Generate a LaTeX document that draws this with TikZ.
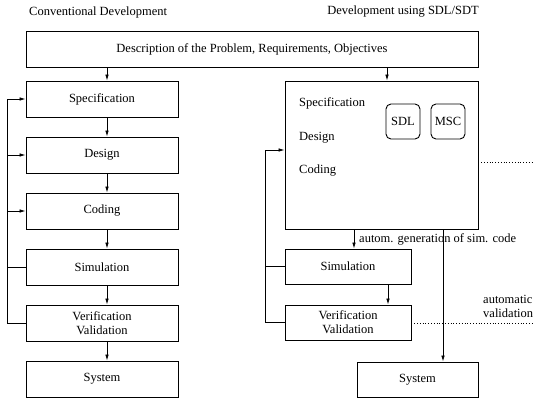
\documentclass[tikz,border=0pt]{standalone}
\usepackage{fontspec}
\setmainfont{Liberation Serif}
\usetikzlibrary{arrows.meta,calc}
\begin{document}
\begin{tikzpicture}[x=1pt,y=-1pt,
  every node/.style={font=\fontsize{12.5}{14}\selectfont, inner sep=0pt},
  box/.style={draw, line width=0.9pt, minimum height=36pt, align=center},
  rbox/.style={draw, line width=0.9pt, rounded corners=5pt, minimum width=34pt, minimum height=35pt},
  arr/.style={line width=0.8pt, -{Latex[length=6pt,width=3.6pt]}},
  ln/.style={line width=0.8pt},
  dot/.style={line width=0.8pt, dotted}]
\useasboundingbox (0,0) rectangle (533,398);
% titles
\node[anchor=west] (t1) at (29,12) {Conventional Development};
\node (t2) at (403,12) {Development using SDL/SDT};
% top box
\node[box, minimum width=452pt] (top) at (252,49) {Description of the Problem, Requirements, Objectives};
% left column
\node[box, minimum width=152pt] (spec) at (102,99) {Specification};
\node[box, minimum width=152pt] (des) at (102,155) {Design};
\node[box, minimum width=152pt] (cod) at (102,211) {Coding};
\node[box, minimum width=152pt] (sim) at (102,267) {Simulation};
\node[box, minimum width=152pt] (ver) at (102,323) {Verification\\Validation};
\node[box, minimum width=152pt] (sys) at (102,379) {System};
\coordinate (lc) at (107,0);
\draw[arr] (top.south -| lc) -- (spec.north -| lc);
\draw[arr] (spec.south -| lc) -- (des.north -| lc);
\draw[arr] (des.south -| lc) -- (cod.north -| lc);
\draw[arr] (cod.south -| lc) -- (sim.north -| lc);
\draw[arr] (sim.south -| lc) -- (ver.north -| lc);
\draw[arr] (ver.south -| lc) -- (sys.north -| lc);
% left feedback
\coordinate (lf) at (7,0);
\draw[ln] (ver.west) -- (ver.west -| lf) -- (spec.west -| lf);
\draw[arr] (spec.west -| lf) -- (spec.west);
\draw[arr] (des.west -| lf) -- (des.west);
\draw[arr] (cod.west -| lf) -- (cod.west);
\draw[ln] (sim.west -| lf) -- (sim.west);
% right column
\node[box, minimum width=193pt, minimum height=148pt] (big) at (381.5,155) {};
\node[anchor=west] (bspec) at (299,103) {Specification};
\node[anchor=west] (bdes) at (299,138) {Design};
\node[anchor=west] (bcod) at (299,171) {Coding};
\node[rbox] (sdl) at (403,121.5) {SDL};
\node[rbox] (msc) at (448,121.5) {MSC};
\node[box, minimum width=126pt, minimum height=35pt] (rsim) at (348,266.5) {Simulation};
\node[box, minimum width=126pt, minimum height=35pt] (rver) at (348,322.5) {Verification\\Validation};
\node[box, minimum width=121pt, minimum height=35pt] (rsys) at (417.5,379.5) {System};
\coordinate (rc) at (387,0);
\draw[arr] (top.south -| rc) -- (big.north -| rc);
\coordinate (c1) at (354,0);
\draw[arr] (big.south -| c1) -- (rsim.north -| c1);
\node[anchor=west] (lab) at (359,239) {autom. generation of sim. code};
\coordinate (c2) at (388,0);
\draw[arr] (rsim.south -| c2) -- (rver.north -| c2);
\coordinate (c3) at (443,0);
\draw[arr] (big.south -| c3) -- (rsys.north -| c3);
% right feedback
\coordinate (rf) at (265,150);
\draw[ln] (rver.west) -- (rver.west -| rf) -- (rf);
\draw[arr] (rf) -- (rf -| big.west);
\draw[ln] (rsim.west -| rf) -- (rsim.west);
% dotted
\coordinate (d1) at (533,162);
\draw[dot] (d1 -| big.east) -- (d1);
\coordinate (d2) at (533,323);
\draw[dot] (d2 -| rver.east) -- (d2);
\node[anchor=west, align=left] (av) at (483,306) {automatic\\validation};
\end{tikzpicture}
\end{document}
